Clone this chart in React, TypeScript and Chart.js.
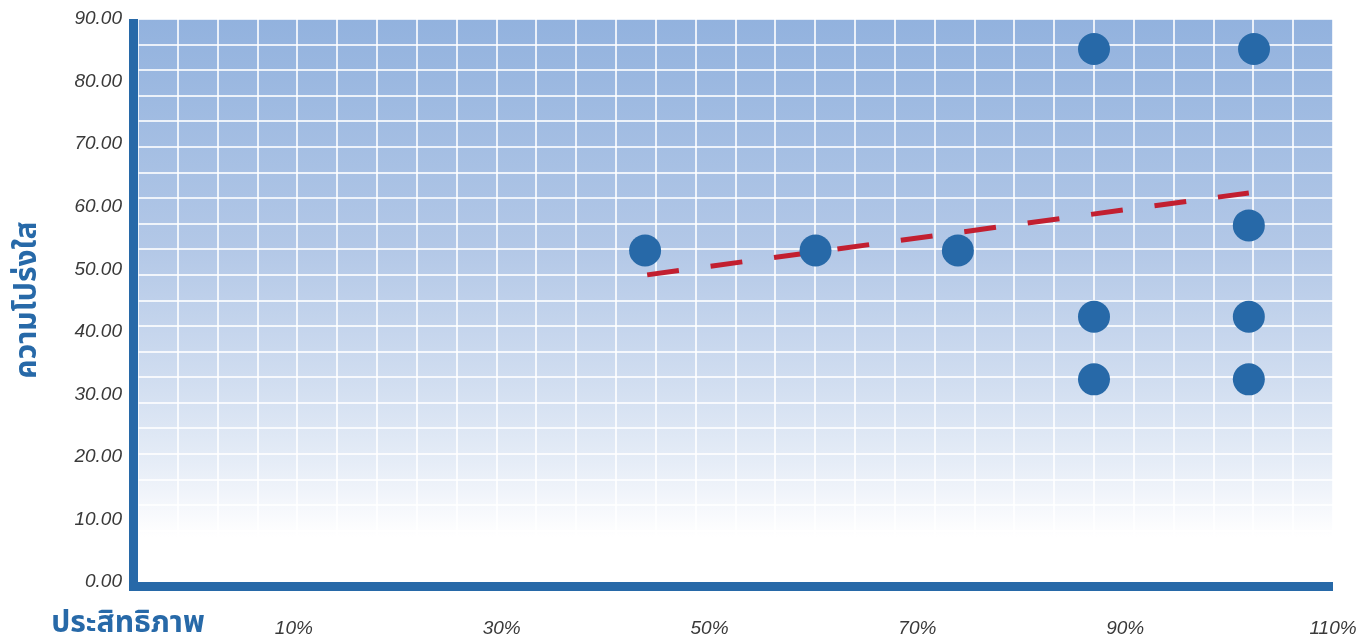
import React, { useEffect, useRef } from "react";
import { Chart, registerables } from "chart.js";

Chart.register(...registerables);

// Data
const pointX = [43.8, 60.2, 73.9, 87.0, 87.0, 87.0, 102.4, 101.9, 101.9, 101.9];
const pointY = [53.0, 53.0, 53.0, 85.2, 42.4, 32.4, 85.2, 57.0, 42.4, 32.4];
const trendX = [44.0, 101.9];
const trendY = [49.1, 62.2];
const xTickValues = [10, 30, 50, 70, 90, 110];
const yTitle = "ความโปร่งใส";
const xTitle = "ประสิทธิภาพ";

const BLUE = "#2769a8";
const RED = "#c21f30";
const TICK_FONT = "'Liberation Sans', Arial, sans-serif";
const THAI_FONT = "'Noto Sans Thai', 'Noto Sans Thai UI', Tahoma, 'Noto Sans', sans-serif";

const zeroPad = (scale: any) => {
  scale.paddingLeft = 0;
  scale.paddingRight = 0;
  scale.paddingTop = 0;
  scale.paddingBottom = 0;
};

const decorPlugin = {
  id: "decor",
  beforeDraw(chart: any) {
    const { ctx, chartArea: a } = chart;
    const g = ctx.createLinearGradient(0, a.top, 0, a.bottom);
    g.addColorStop(0, "#92b2de");
    g.addColorStop(0.41, "#b3c8e7");
    g.addColorStop(0.64, "#d0ddf0");
    g.addColorStop(0.79, "#e6edf7");
    g.addColorStop(0.87, "#f6f8fc");
    g.addColorStop(0.92, "#ffffff");
    g.addColorStop(1, "#ffffff");
    ctx.save();
    ctx.fillStyle = g;
    ctx.fillRect(a.left, a.top, a.right - a.left, a.bottom - a.top);
    ctx.restore();
  },
  afterDraw(chart: any) {
    const { ctx, chartArea: a } = chart;
    ctx.save();
    ctx.fillStyle = BLUE;
    ctx.fillRect(a.left - 9, a.top, 9, a.bottom - a.top + 9);
    ctx.fillRect(a.left - 9, a.bottom, a.right - a.left + 9, 9);
    // titles
    ctx.fillStyle = BLUE;
    ctx.font = `bold 30px ${THAI_FONT}`;
    ctx.textAlign = "center";
    ctx.textBaseline = "middle";
    ctx.save();
    ctx.translate(30, 300);
    ctx.rotate(-Math.PI / 2);
    ctx.fillText(yTitle, 0, 0);
    ctx.restore();
    ctx.fillText(xTitle, 128, 626);
    ctx.restore();
  },
};

export default function App() {
  const ref = useRef<HTMLCanvasElement | null>(null);

  useEffect(() => {
    if (!ref.current) return;
    const scatterData = pointX.map((x, i) => ({ x, y: pointY[i] }));
    const trendData = trendX.map((x, i) => ({ x, y: trendY[i] }));
    const chart = new Chart(ref.current, {
      type: "scatter",
      data: {
        datasets: [
          {
            type: "line",
            data: trendData,
            borderColor: RED,
            borderWidth: 5,
            borderDash: [32, 32],
            pointRadius: 0,
            fill: false,
            order: 2,
          } as any,
          {
            data: scatterData,
            backgroundColor: BLUE,
            borderWidth: 0,
            pointRadius: 16,
            pointHoverRadius: 16,
            order: 1,
          },
        ],
      },
      options: {
        animation: false,
        responsive: true,
        maintainAspectRatio: false,
        layout: { padding: { top: 19, right: 34, left: 0, bottom: 0 } },
        plugins: {
          legend: { display: false },
          tooltip: { enabled: false },
        },
        scales: {
          x: {
            type: "linear",
            position: "bottom",
            min: -5,
            max: 110,
            grid: { display: false, drawTicks: false },
            border: { display: false },
            afterBuildTicks: (scale: any) => {
              scale.ticks = xTickValues.map((v) => ({ value: v }));
            },
            afterFit: (scale: any) => {
              scale.height = 62;
              zeroPad(scale);
            },
            ticks: {
              padding: 35,
              color: "#3a3a3a",
              font: { family: TICK_FONT, size: 19, style: "italic" },
              maxRotation: 0,
              autoSkip: false,
              callback: (v: any) => `${v}%`,
            },
          },
          y: {
            type: "linear",
            position: "left",
            min: 0,
            max: 90,
            grid: { display: false, drawTicks: false },
            border: { display: false },
            afterFit: (scale: any) => {
              scale.width = 138;
              zeroPad(scale);
            },
            ticks: {
              stepSize: 10,
              padding: 16,
              color: "#3a3a3a",
              font: { family: TICK_FONT, size: 19, style: "italic" },
              callback: (v: any) => Number(v).toFixed(2),
            },
          },
          xg: {
            type: "linear",
            position: "top",
            min: 0,
            max: 30,
            grid: { color: "rgba(255,255,255,0.8)", lineWidth: 2, drawTicks: false },
            border: { display: false },
            ticks: { display: false, stepSize: 1 },
            afterFit: (scale: any) => {
              scale.height = 0;
              zeroPad(scale);
            },
          },
          yg: {
            type: "linear",
            position: "right",
            min: 0,
            max: 22,
            grid: { color: "rgba(255,255,255,0.8)", lineWidth: 2, drawTicks: false },
            border: { display: false },
            ticks: { display: false, stepSize: 1 },
            afterFit: (scale: any) => {
              scale.width = 0;
              zeroPad(scale);
            },
          },
        },
      } as any,
      plugins: [decorPlugin],
    });
    return () => chart.destroy();
  }, []);

  return (
    <div style={{ position: "fixed", left: 0, top: 0, width: 1367, height: 644, background: "#fff" }}>
      <canvas ref={ref} />
    </div>
  );
}
